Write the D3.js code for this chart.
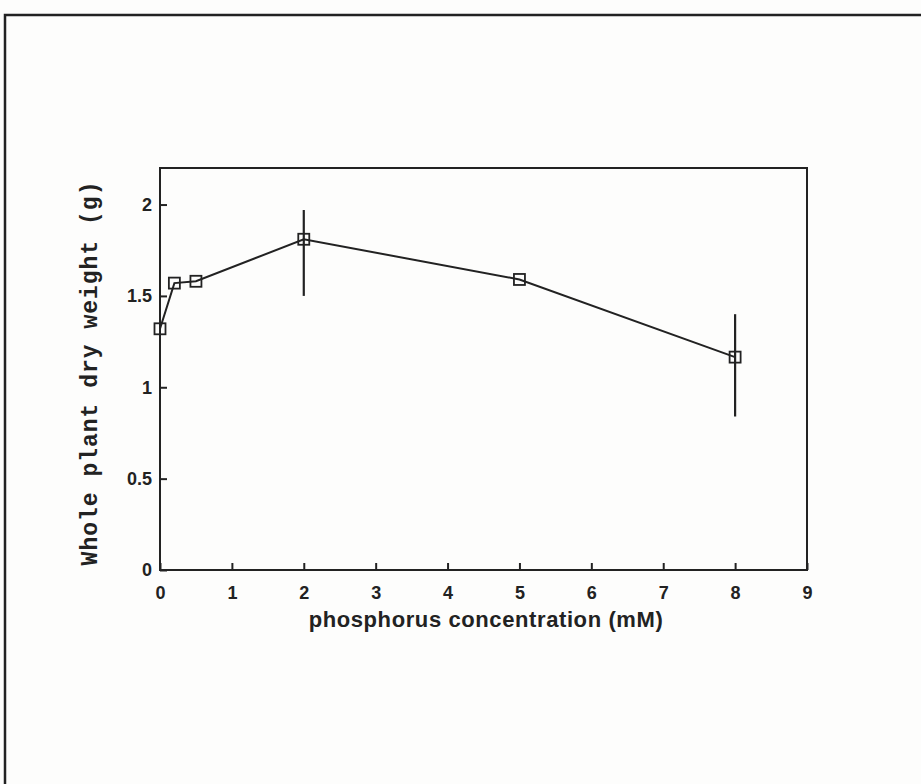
<!DOCTYPE html>
<html>
<head>
<meta charset="utf-8">
<script src="https://cdn.jsdelivr.net/npm/d3@7"></script>
<style>
  html, body { margin: 0; padding: 0; background: #fdfdfc; }
  svg { display: block; }
</style>
</head>
<body>
<svg id="chart" width="921" height="784"></svg>
<script>
// phosphorus concentration (mM) and whole plant dry weight (g)
const concentration = [0, 0.2, 0.5, 2, 5, 8];
const dryWeight = [1.32, 1.57, 1.58, 1.81, 1.59, 1.165];
// error bar ends (null = no visible bar)
const errHigh = [null, null, null, 1.97, null, 1.40];
const errLow = [null, null, null, 1.50, null, 0.84];

const xTicks = [0, 1, 2, 3, 4, 5, 6, 7, 8, 9];
const yTicks = [0, 0.5, 1, 1.5, 2];

const ink = "#222";
const svg = d3.select("#chart");

// outer frame of the page
svg.append("path")
    .attr("d", "M5,790 L5,15 L930,15")
    .attr("fill", "none")
    .attr("stroke", ink)
    .attr("stroke-width", 2.5);

const plot = { left: 160, right: 807, top: 168, bottom: 570 };

const x = d3.scaleLinear().domain([0, 9]).range([plot.left, plot.right]);
const y = d3.scaleLinear().domain([0, 2.2]).range([plot.bottom, plot.top]);

// plot box
svg.append("rect")
    .attr("x", plot.left)
    .attr("y", plot.top)
    .attr("width", plot.right - plot.left)
    .attr("height", plot.bottom - plot.top)
    .attr("fill", "none")
    .attr("stroke", ink)
    .attr("stroke-width", 2);

// axes with inward ticks
const xAxis = svg.append("g")
    .attr("transform", `translate(0,${plot.bottom})`)
    .call(d3.axisBottom(x).tickValues(xTicks).tickSizeInner(-7).tickSizeOuter(0).tickPadding(17).tickFormat(d3.format("d")));

const yAxis = svg.append("g")
    .attr("transform", `translate(${plot.left},0)`)
    .call(d3.axisLeft(y).tickValues(yTicks).tickSizeInner(-7).tickSizeOuter(0).tickPadding(8).tickFormat(d => String(d)));

[xAxis, yAxis].forEach(g => {
    g.select(".domain").remove();
    g.selectAll(".tick line").attr("stroke", ink).attr("stroke-width", 2);
    g.selectAll(".tick text")
        .attr("fill", ink)
        .style("font-family", "'Liberation Sans', Arial, sans-serif")
        .style("font-weight", "bold")
        .style("font-size", "18px");
});
xAxis.selectAll(".tick text").attr("dy", "0.66em");

// error bars
const bars = concentration.map((c, i) => ({ c, hi: errHigh[i], lo: errLow[i] }))
    .filter(d => d.hi != null);

svg.append("g").selectAll("line")
    .data(bars)
    .join("line")
    .attr("x1", d => x(d.c))
    .attr("x2", d => x(d.c))
    .attr("y1", d => y(d.hi))
    .attr("y2", d => y(d.lo))
    .attr("stroke", ink)
    .attr("stroke-width", 2.2);

// connecting line
const points = concentration.map((c, i) => ({ c, v: dryWeight[i] }));
svg.append("path")
    .datum(points)
    .attr("fill", "none")
    .attr("stroke", ink)
    .attr("stroke-width", 2)
    .attr("d", d3.line().x(d => x(d.c)).y(d => y(d.v)));

// open square markers
const s = 11;
svg.append("g").selectAll("rect")
    .data(points)
    .join("rect")
    .attr("x", d => x(d.c) - s / 2)
    .attr("y", d => y(d.v) - s / 2)
    .attr("width", s)
    .attr("height", s)
    .attr("fill", "none")
    .attr("stroke", ink)
    .attr("stroke-width", 1.8);

// axis titles
svg.append("text")
    .attr("x", 486)
    .attr("y", 627)
    .attr("text-anchor", "middle")
    .attr("fill", ink)
    .style("font-family", "'Liberation Sans', Arial, sans-serif")
    .style("font-weight", "bold")
    .style("font-size", "22px")
    .style("letter-spacing", "0.6px")
    .text("phosphorus concentration (mM)");

svg.append("text")
    .attr("transform", "translate(97,373) rotate(-90)")
    .attr("text-anchor", "middle")
    .attr("fill", ink)
    .style("font-family", "'Liberation Mono', 'Courier New', monospace")
    .style("font-weight", "bold")
    .style("font-size", "23px")
    .style("letter-spacing", "1px")
    .text("Whole plant dry weight (g)");
</script>
</body>
</html>
